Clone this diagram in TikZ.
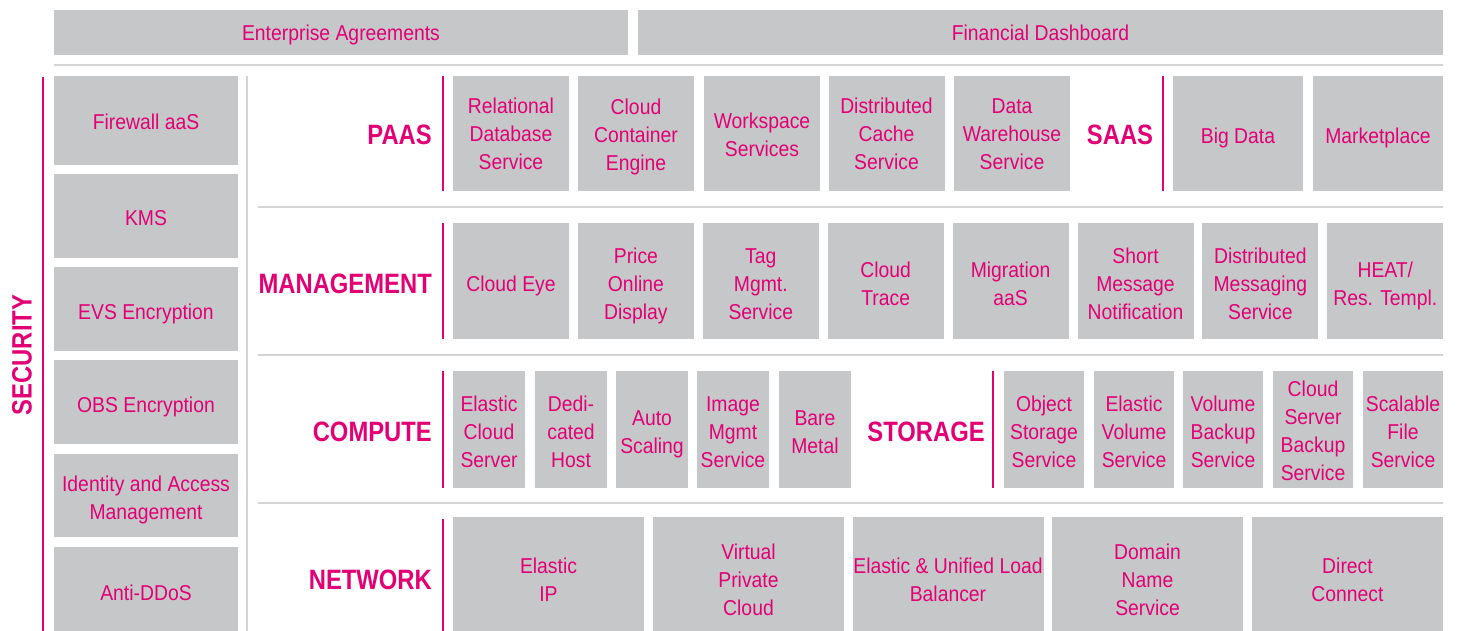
\documentclass[tikz,border=0pt]{standalone}
\usepackage{fontspec}
\setmainfont{Liberation Sans}[FakeStretch=0.9]
\newfontfamily\headfont{Liberation Sans}[FakeStretch=0.85]
\definecolor{tmag}{HTML}{E20074}
\definecolor{tgrey}{HTML}{C6C7C9}
\definecolor{tline}{HTML}{D4D4D4}
% box text framed by invisible rules, so the first and last baselines
% sit at a fixed place whatever the letters are; the optional argument
% is the height above the first baseline (height + depth = 28pt)
\newcommand\bx[2][24.7]{\rule{0pt}{#1pt}#2\rule[-\dimexpr 28pt-#1pt\relax]{0pt}{\dimexpr 28pt-#1pt\relax}}

\begin{document}
\begin{tikzpicture}[x=1pt,y=-1pt,
  box/.style={fill=tgrey, inner sep=0pt, align=center, text=tmag,
    font=\fontsize{21.5}{28}\selectfont},
  sz/.style 2 args={minimum width=#1pt, minimum height=#2pt},
  head/.style={text=tmag, inner sep=0pt,
    font=\headfont\bfseries\fontsize{28}{30}\selectfont},
  sep/.style={draw=tline, line width=1.6pt},
  bar/.style={draw=tmag, line width=2pt}]

\useasboundingbox (0,0) rectangle (1457,631);
\clip (0,0) rectangle (1457,631);

% top bar
\node[box, sz={574}{45}] (ea) at (341,32.3) {\bx[22.4]{Enterprise Agreements}};
\node[box, sz={805}{45}] (fd) at (1040.5,32.3) {\bx[22.4]{Financial Dashboard}};
\draw[sep] (54,65) -- (1443,65);

% security column
\draw[bar] (43,77) -- (43,631);
\node[head, rotate=90] (sec) at (22,355) {SECURITY};
\node[box, sz={184}{89}] (fw)   at (146,120.5) {\bx[22.6]{Firewall aaS}};
\node[box, sz={184}{84}] (kms)  at (146,216)   {\bx[23.7]{KMS}};
\node[box, sz={184}{84}] (evse) at (146,309)   {\bx{EVS Encryption}};
\node[box, sz={184}{84}] (obse) at (146,402)   {\bx{OBS Encryption}};
\node[box, sz={184}{83}] (iam)  at (146,495.5) {\bx{Identity and Access\\Management}};
\node[box, sz={184}{92}] (ddos) at (146,593)   {\bx[21.8]{Anti-DDoS}};
\draw[sep] (247,76) -- (247,631);

% row separators
\draw[sep] (258,207) -- (1443,207);
\draw[sep] (258,355) -- (1443,355);
\draw[sep] (258,503) -- (1443,503);

% PAAS / SAAS
\node[head, anchor=east] (paas) at (432,135) {PAAS};
\draw[bar] (443,76) -- (443,191);
\node[box, sz={116}{115}] (rds) at (511,133.5)  {\bx[21.7]{Relational\\Database\\Service}};
\node[box, sz={116}{115}] (cce) at (636,133.5)  {\bx[22.7]{Cloud\\Container\\Engine}};
\node[box, sz={116}{115}] (wks) at (762,133.5)  {\bx[22.7]{Workspace\\Services}};
\node[box, sz={116}{115}] (dcs) at (886.5,133.5){\bx[21.7]{Distributed\\Cache\\Service}};
\node[box, sz={116}{115}] (dws) at (1012,133.5) {\bx[21.7]{Data\\Warehouse\\Service}};
\node[head] (saas) at (1120,135) {SAAS};
\draw[bar] (1163,76) -- (1163,191);
\node[box, sz={130}{115}] (bigd) at (1238,133.5) {\bx{Big Data}};
\node[box, sz={130}{115}] (mkt)  at (1378,133.5) {\bx{Marketplace}};

% MANAGEMENT
\node[head, anchor=east] (mgmt) at (432,284) {MANAGEMENT};
\draw[bar] (443,223) -- (443,339);
\node[box, sz={116}{116}] (ces)  at (511,281)    {\bx{Cloud Eye}};
\node[box, sz={116}{116}] (pod)  at (635.9,281)  {\bx{Price\\Online\\Display}};
\node[box, sz={116}{116}] (tms)  at (760.8,281)  {\bx{Tag\\Mgmt.\\Service}};
\node[box, sz={116}{116}] (cts)  at (885.7,281)  {\bx{Cloud\\Trace}};
\node[box, sz={116}{116}] (mig)  at (1010.6,281) {\bx{Migration\\aaS}};
\node[box, sz={116}{116}] (smn)  at (1135.5,281) {\bx{Short\\Message\\Notification}};
\node[box, sz={116}{116}] (dms)  at (1260.4,281) {\bx{Distributed\\Messaging\\Service}};
\node[box, sz={116}{116}] (heat) at (1385.3,281) {\bx{HEAT/\\Res. Templ.}};

% COMPUTE / STORAGE
\node[head, anchor=east] (comp) at (432,432) {COMPUTE};
\draw[bar] (443,371) -- (443,488);
\node[box, sz={72}{117}] (ecs) at (489,429.5) {\bx[23.7]{Elastic\\Cloud\\Server}};
\node[box, sz={72}{117}] (deh) at (571,429.5) {\bx[23.7]{Dedi-\\cated\\Host}};
\node[box, sz={72}{117}] (as)  at (652,429.5) {\bx[23.7]{Auto\\Scaling}};
\node[box, sz={72}{117}] (ims) at (733,429.5) {\bx[23.7]{Image\\Mgmt\\Service}};
\node[box, sz={72}{117}] (bms) at (815,429.5) {\bx[23.7]{Bare\\Metal}};
\node[head] (stor) at (926,432) {STORAGE};
\draw[bar] (993,371) -- (993,488);
\node[box, sz={80}{117}] (obs)  at (1044,429.5) {\bx[23.7]{Object\\Storage\\Service}};
\node[box, sz={80}{117}] (evs)  at (1134,429.5) {\bx[23.7]{Elastic\\Volume\\Service}};
\node[box, sz={80}{117}] (vbs)  at (1223,429.5) {\bx[23.7]{Volume\\Backup\\Service}};
\node[box, sz={80}{117}] (csbs) at (1313,429.5) {\bx[23.4]{Cloud\\Server\\Backup\\Service}};
\node[box, sz={80}{117}] (sfs)  at (1403,429.5) {\bx[23.7]{Scalable\\File\\Service}};

% NETWORK
\node[head, anchor=east] (net) at (432,580) {NETWORK};
\draw[bar] (443,519) -- (443,631);
\node[box, sz={191}{122}] (eip) at (548.5,577.5)  {\bx[23.7]{Elastic\\IP}};
\node[box, sz={191}{122}] (vpc) at (748.5,577.5)  {\bx[23.7]{Virtual\\Private\\Cloud}};
\node[box, sz={191}{122}] (elb) at (948,577.5)    {\bx[23.7]{Elastic \& Unified Load\\Balancer}};
\node[box, sz={191}{122}] (dns) at (1147.5,577.5) {\bx[23.7]{Domain\\Name\\Service}};
\node[box, sz={191}{122}] (dc)  at (1347.5,577.5) {\bx[23.7]{Direct\\Connect}};
\end{tikzpicture}
\end{document}
